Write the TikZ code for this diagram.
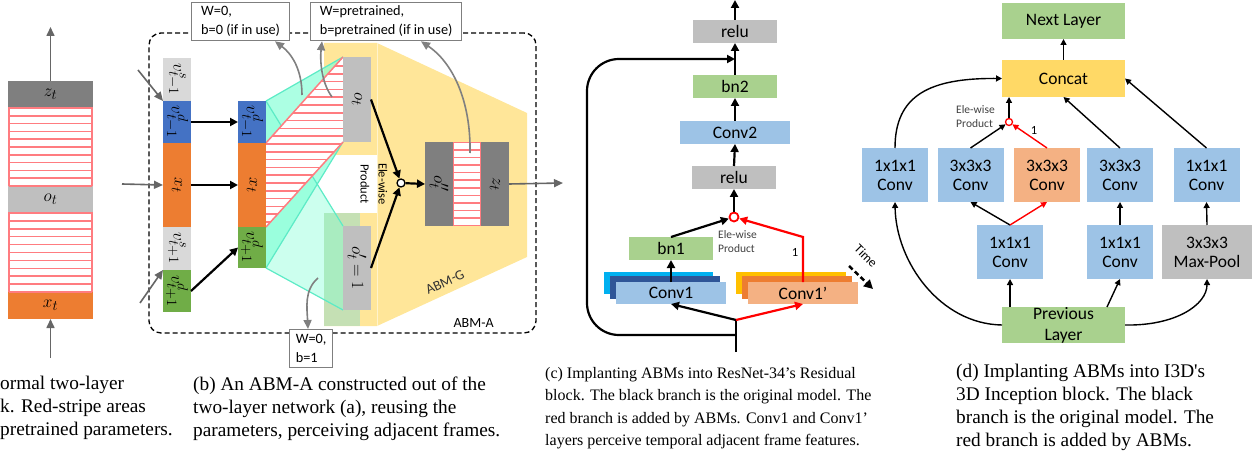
\documentclass[tikz,border=0pt]{standalone}
\usepackage{fontspec}
\setmainfont{Liberation Serif}
\newfontfamily\carlito{Carlito}
\usetikzlibrary{calc,positioning,arrows.meta,backgrounds}

\definecolor{zgray}{HTML}{7F7F7F}
\definecolor{ogray}{HTML}{BFBFBF}
\definecolor{sgray}{HTML}{D9D9D9}
\definecolor{xorange}{HTML}{ED7D31}
\definecolor{vblue}{HTML}{4472C4}
\definecolor{vgreen}{HTML}{70AD47}
\definecolor{stripe}{HTML}{FF7C80}
\definecolor{abmg}{HTML}{FFE699}
\definecolor{field}{HTML}{7FFFD4}
\definecolor{fieldline}{HTML}{5CEBC6}
\definecolor{lgreen}{HTML}{C5E0B4}
\definecolor{convblue}{HTML}{9DC3E6}
\definecolor{bngreen}{HTML}{A9D18E}
\definecolor{convorange}{HTML}{F4B183}
\definecolor{concatyellow}{HTML}{FFD966}
\definecolor{skyblue}{HTML}{00B0F0}
\definecolor{deepblue}{HTML}{2F5597}
\definecolor{amber}{HTML}{FFC000}

\begin{document}
\begin{tikzpicture}[x=1pt, y=-1pt,
    box/.style={inner sep=0pt, outer sep=0pt, align=center,
      font=\carlito\fontsize{17.5}{19}\selectfont},
    col/.style={box, minimum width=28, font=\fontsize{19}{21}\selectfont},
    hatch/.style={box, fill=white, draw=stripe, line width=1.5pt},
    wbox/.style={anchor=north west, draw=zgray, line width=1.3pt, fill=white,
      inner xsep=4pt, inner ysep=0pt, minimum height=38, align=left,
      font=\carlito\fontsize{14.3}{19}\selectfont},
    dashbox/.style={draw, line width=1.3pt, rounded corners=12pt, dash pattern=on 5pt off 3pt},
    arr/.style={-{Triangle[length=8pt,width=8pt]}, line width=2.2pt},
    rarr/.style={arr, red},
    tarr/.style={-{Triangle[length=6pt,width=6pt]}, line width=1.4pt},
    rtarr/.style={tarr, red},
    garr/.style={-{Triangle[length=9pt,width=8pt]}, draw=black!50, line width=1.6pt},
    notetext/.style={inner sep=0pt, align=left, text=black!75,
      font=\carlito\fontsize{11.5}{14}\selectfont},
    captxt/.style={anchor=base west, align=left, inner sep=0pt,
      font=\fontsize{19.3}{23}\selectfont}
  ]
  \useasboundingbox (0,0) rectangle (1260,454);

  % (a)
  \node[box, fill=zgray, minimum width=85, minimum height=27, font=\fontsize{19}{21}\selectfont] (za) at (50.5,94.5) {$z_t$};
  \node[hatch, minimum width=83, minimum height=78, below=0pt of za] (sa1) {};
  \node[box, fill=ogray, minimum width=85, minimum height=27, below=0pt of sa1, font=\fontsize{19}{21}\selectfont] (oa) {$o_t$};
  \node[hatch, minimum width=83, minimum height=79, below=0pt of oa] (sa2) {};
  \node[box, fill=xorange, minimum width=85, minimum height=27, below=0pt of sa2, font=\fontsize{19}{21}\selectfont] (xa) {$x_t$};
  \coordinate (atop) at (50.5,27);
  \coordinate (abot) at (50.5,358);
  \draw[garr, draw=black!60] (za.north) -- (atop);
  \draw[garr, draw=black!60] (abot) -- (xa.south);

  % (b)
  \node[dashbox, minimum width=387, minimum height=300] (abma) at (342.5,183) {};
  \node[box, font=\carlito\fontsize{14}{16}\selectfont] at ([shift={(-63,-11)}]abma.south east) {ABM-A};

  \node[col, fill=sgray, minimum height=43] (vs1) at (177,79.5) {\rotatebox{-90}{$v^s_{t-1}$}};
  \node[col, fill=vblue, minimum height=42, below=0pt of vs1] (vd1) {\rotatebox{-90}{$v^d_{t-1}$}};
  \node[col, fill=xorange, minimum height=84, below=0pt of vd1] (xt1) {\rotatebox{-90}{$x_t$}};
  \node[col, fill=sgray, minimum height=43, below=0pt of xt1] (vs2) {\rotatebox{-90}{$v^s_{t+1}$}};
  \node[col, fill=vgreen, minimum height=42, below=0pt of vs2] (vd2) {\rotatebox{-90}{$v^d_{t+1}$}};

  \node[col, fill=vblue, minimum height=42] (vd3) at (252,122) {\rotatebox{-90}{$v^d_{t-1}$}};
  \node[col, fill=xorange, minimum height=84, below=0pt of vd3] (xt2) {\rotatebox{-90}{$x_t$}};
  \node[col, fill=vgreen, minimum height=41, below=0pt of xt2] (vd4) {\rotatebox{-90}{$v^d_{t+1}$}};

  \node[col, fill=ogray, minimum height=85] (ob) at (357,99.5) {\rotatebox{-90}{$o_t$}};
  \node[col, fill=ogray, minimum height=84] (opb) at (357,268) {\rotatebox{-90}{$o'_t=1$}};
  \node[col, fill=zgray, minimum height=84] (oppb) at (439,184) {\rotatebox{-90}{$o''_t$}};
  \node[hatch, minimum width=27, minimum height=83, right=0.5pt of oppb] (sb) {};
  \node[col, fill=zgray, minimum height=84, right=0.5pt of sb] (zb) {\rotatebox{-90}{$z_t$}};

  \foreach \s/\n in {sa1/10, sa2/10, sb/11}
    \foreach \k in {1,...,\n}
      \draw[stripe, line width=1.5pt] ($(\s.north west)!\k/\n!(\s.south west)$) -- ($(\s.north east)!\k/\n!(\s.south east)$);

  \begin{pgfonlayer}{background}
    \fill[abmg] (324,43) -- (377,43) -- (527,113) -- (527,257) -- (377,326) -- (324,326) -- cycle;
    \draw[white!50!abmg, line width=0.8pt] (377,43) -- (377,326);
    \fill[white] (324,155) rectangle (377,213);
    \fill[lgreen] (324,213) rectangle (360,326);
    \fill[field, opacity=.65] (vd3.north east) -- (ob.north west) -- (ob.south west) -- (vd4.south east) -- cycle;
    \fill[field, opacity=.4] (vd3.north east) -- (opb.north west) -- (opb.south west) -- (vd4.south east) -- cycle;
    \draw[fieldline, line width=1.2pt] (vd3.north east) -- (ob.north west) (vd4.south east) -- (ob.south west)
      (vd3.north east) -- (opb.north west) (vd4.south east) -- (opb.south west);
    \begin{scope}
      \clip (xt2.north east) -- (ob.north west) -- (ob.south west) -- (xt2.south east) -- cycle;
      \fill[white] (250,50) rectangle (350,230);
      \foreach \y in {66,73.8,...,230}
        \draw[stripe, line width=1.5pt] (260,\y) -- (350,\y);
    \end{scope}
    \draw[stripe, line width=1.5pt] (xt2.north east) -- (ob.north west) (ob.south west) -- (xt2.south east);
  \end{pgfonlayer}

  \node[circle, draw, line width=1.3pt, fill=white, inner sep=0pt, minimum size=8pt] (pb) at (401,183) {};
  \node[notetext, align=center, text=black, rotate=-90, font=\carlito\fontsize{12.5}{18}\selectfont] at (374,184) {Ele-wise\\Product};
  \node[box, rotate=25, text=black!80, font=\carlito\fontsize{14}{16}\selectfont] at (445,282) {ABM-G};

  \coordinate (ia) at (138,70);
  \coordinate (ib) at (122,184);
  \coordinate (ic) at (140,303);
  \coordinate (ob2) at (563,183);
  \draw[garr, draw=black!60] (ia) -- (vd1.north west);
  \draw[garr, draw=black!60] (ib) -- (xt1.west);
  \draw[garr, draw=black!60] (ic) -- (vd2.north west);
  \draw[arr] (vd1.east) -- (vd3.west);
  \draw[arr] (xt1.east) -- (xt2.west);
  \draw[arr] (vd2.east) -- (vd4.west);
  \draw[arr] (ob.east) -- (pb);
  \draw[arr] (opb.east) -- (pb);
  \draw[arr] (pb) -- (oppb.west);
  \draw[garr, draw=black!60] (zb.east) -- (ob2);

  \node[wbox, minimum width=98] (w0) at (191,2) {W=0,\\b=0 (if in use)};
  \node[wbox, minimum width=151] (wp) at (310,2) {W=pretrained,\\b=pretrained (if in use)};
  \node[wbox, minimum width=43] (w1) at (289,329) {W=0,\\b=1};

  \coordinate (g1) at (302,95);
  \coordinate (g2) at (332,97);
  \coordinate (g3) at (470,153);
  \coordinate (g4) at (318,278);
  \draw[garr] (g1) .. controls (302,70) and (292,54) .. (w0.south -| 275,0);
  \draw[garr] (g2) .. controls (321,82) and (320,60) .. (wp.south -| 322,0);
  \draw[garr] (g3) .. controls (471,100) and (452,62) .. (wp.south -| 421,0);
  \draw[garr] (g4) .. controls (304,290) and (307,308) .. (w1.north -| 308,0);

  % (c)
  \node[box, fill=ogray, minimum width=84, minimum height=23] (relu2) at (735,31.5) {relu};
  \node[box, fill=bngreen, minimum width=84, minimum height=23] (bn2) at (735,86.5) {bn2};
  \node[box, fill=convblue, minimum width=110, minimum height=23] (conv2) at (735,132.5) {Conv2};
  \node[box, fill=ogray, minimum width=84, minimum height=23] (relu1) at (734,177.5) {relu};
  \node[circle, draw=red, line width=1.8pt, fill=white, inner sep=0pt, minimum size=9pt] (pc) at (734,217) {};
  \node[box, fill=bngreen, minimum width=84, minimum height=23] (bn1) at (671,248.5) {bn1};
  \node[box, fill=skyblue, minimum width=109, minimum height=22] (c1a) at (658.5,283) {};
  \node[box, fill=deepblue, minimum width=110, minimum height=23] (c1b) at (665,287.5) {};
  \node[box, fill=convblue, minimum width=110, minimum height=22] (c1) at (671,293) {Conv1};
  \node[box, fill=amber, minimum width=110, minimum height=22] (c2a) at (791,283) {};
  \node[box, fill=xorange, minimum width=110, minimum height=23] (c2b) at (797,287.5) {};
  \node[box, fill=convorange, minimum width=110, minimum height=22] (c1p) at (803,293) {Conv1’};
  \node[notetext, anchor=west] (ewc) at (718,242) {Ele-wise\\Product};
  \node[notetext, font=\carlito\fontsize{12.5}{14}\selectfont, text=black] at (795,252) {1};

  \coordinate (rin) at (736,352);
  \coordinate (fork) at (736,335);
  \coordinate (sp) at (736,320);
  \coordinate (rout) at (735,0);
  \coordinate (skipin) at ($(bn2.north)!.5!(relu2.south)$);
  \draw[line width=2.2pt] (rin) -- (sp);
  \draw[arr] (sp) -- (c1.south);
  \draw[rarr] (sp) -- (c1p.south);
  \draw[arr] (c1.north) -- (bn1.south);
  \draw[arr] (bn1.north) -- (pc);
  \draw[rarr] (c1p.north) -- (c1p.north |- bn1.north) -- (pc);
  \draw[arr] (pc) -- (relu1.south);
  \draw[arr] (relu1.north) -- (conv2.south);
  \draw[arr] (conv2.north) -- (bn2.south);
  \draw[arr] (bn2.north) -- (relu2.south);
  \draw[arr] (relu2.north) -- (rout);
  \draw[arr, rounded corners=32pt] (fork) -| (587,200) |- (skipin);

  \coordinate (t0) at (849,266);
  \coordinate (t1) at (873,289);
  \draw[-{Triangle[length=9pt,width=9pt]}, line width=2.5pt, dash pattern=on 5pt off 3pt] (t0) -- (t1);
  \node[box, rotate=-45, font=\carlito\fontsize{13}{15}\selectfont] at (866,256) {Time};

  % (d)
  \node[box, fill=bngreen, minimum width=123, minimum height=36] (nl) at (1063.5,21) {Next Layer};
  \node[box, fill=concatyellow, minimum width=123, minimum height=37] (concat) at (1063.5,78.5) {Concat};
  \foreach \n/\x/\c/\t in {d1/895/convblue/1x1x1, d2/970.5/convblue/3x3x3, d3/1047/convorange/3x3x3,
      d4/1120/convblue/3x3x3, d5/1206.5/convblue/1x1x1}
    \node[box, fill=\c, minimum width=66, minimum height=54] (\n) at (\x,175) {\t\\Conv};
  \node[box, fill=convblue, minimum width=66, minimum height=54] (r1) at (1010,252) {1x1x1\\Conv};
  \node[box, fill=convblue, minimum width=66, minimum height=54] (r2) at (1120,252) {1x1x1\\Conv};
  \node[box, fill=ogray, minimum width=90, minimum height=54] (mp) at (1207,252) {3x3x3\\Max-Pool};
  \node[box, fill=bngreen, minimum width=123, minimum height=36, font=\carlito\fontsize{17.5}{21}\selectfont] (pl) at (1063.5,325) {Previous\\Layer};
  \node[circle, draw=red, line width=1.3pt, fill=white, inner sep=0pt, minimum size=7pt] (pd) at (1009,122) {};
  \node[notetext, anchor=east] (ewd) at (995,117) {Ele-wise\\Product};
  \node[notetext, font=\carlito\fontsize{12.5}{14}\selectfont, text=black] at (1034,130) {1};

  \draw[tarr] (concat.north) -- (nl.south);
  \draw[tarr] (pd) -- (pd |- concat.south);
  \draw[tarr] (d2.north) -- (pd);
  \draw[rtarr] (d3.north) -- (pd);
  \draw[tarr] (d4.north) -- (concat.south);
  \draw[tarr] (d5.north) -- (concat.east);
  \draw[tarr] (d1.north) .. controls (895,95) and (930,78) .. (concat.west);
  \draw[tarr] (pl.west) .. controls (940,324) and (896,262) .. (d1.south);
  \draw[tarr] (pl.east) .. controls (1175,326) and (1207,305) .. (mp.south);
  \draw[tarr] (r1.south |- pl.north) -- (r1.south);
  \draw[tarr] ([xshift=43.5pt]pl.north) -- (r2.south);
  \draw[tarr] (r1.north) -- (d2.south);
  \draw[rtarr] (r1.north) -- (d3.south);
  \draw[tarr] (r2.north) -- (d4.south);
  \draw[tarr] (mp.north) -- (d5.south);

  % captions
  \node[captxt] (capa) at (0,435) {ormal two-layer\\k. Red-stripe areas\\pretrained parameters.};
  \node[captxt] (capb) at (193,436) {(b) An ABM-A constructed out of the\\two-layer network (a), reusing the\\parameters, perceiving adjacent frames.};
  \node[captxt, font=\fontsize{16}{22.5}\selectfont] (capc) at (545,445.5) {(c) Implanting ABMs into ResNet-34’s Residual\\block. The black branch is the original model. The\\red branch is added by ABMs. Conv1 and Conv1’\\layers perceive temporal adjacent frame features.};
  \node[captxt, font=\fontsize{19.3}{22.7}\selectfont] (capd) at (956,446) {(d) Implanting ABMs into I3D\textquotesingle s\\3D Inception block. The black\\branch is the original model. The\\red branch is added by ABMs.};
\end{tikzpicture}
\end{document}
